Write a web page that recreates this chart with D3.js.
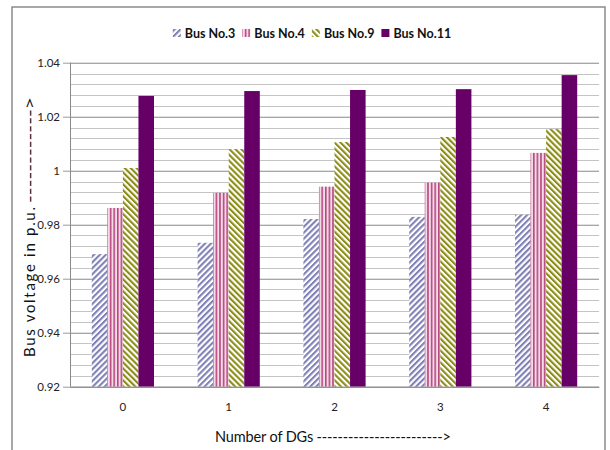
<!DOCTYPE html>
<html><head><meta charset="utf-8">
<script src="https://cdn.jsdelivr.net/npm/d3@7/dist/d3.min.js"></script>
<style>body{margin:0;background:#fff;} svg{display:block;font-family:Lato, "Noto Sans", sans-serif;}</style>
</head><body>
<svg id="c" width="610" height="450"></svg>
<script>
const categories = ["0","1","2","3","4"];
const seriesNames = ["Bus No.3","Bus No.4","Bus No.9","Bus No.11"];
const bus3  = [0.9691, 0.9733, 0.9821, 0.9829, 0.9837];
const bus4  = [0.9862, 0.9918, 0.9941, 0.9956, 1.0066];
const bus9  = [1.0010, 1.0080, 1.0106, 1.0125, 1.0154];
const bus11 = [1.0277, 1.0295, 1.0299, 1.0302, 1.0354];
const yTicks = [0.92, 0.94, 0.96, 0.98, 1.00, 1.02, 1.04];
const yTickLabels = ["0.92","0.94","0.96","0.98","1","1.02","1.04"];
const minorStep = 0.004;

(function(){
const seriesValues = [bus3, bus4, bus9, bus11];
const svg = d3.select("#c");
const defs = svg.append("defs");

function diag(id, color, dir){
  const p = defs.append("pattern").attr("id", id).attr("patternUnits","userSpaceOnUse")
    .attr("width",4.2).attr("height",4.2)
    .attr("patternTransform","rotate(" + (dir > 0 ? 45 : -45) + ")");
  p.append("rect").attr("width",4.2).attr("height",4.2).attr("fill","#fff");
  p.append("rect").attr("width",2.1).attr("height",4.2).attr("fill",color);
}
diag("p3", "#7f80b6", 1);
diag("p9", "#8c8c14", -1);
{
  const p = defs.append("pattern").attr("id","p4").attr("patternUnits","userSpaceOnUse")
    .attr("width",3.6).attr("height",4);
  p.append("rect").attr("width",3.6).attr("height",4).attr("fill","#f4dbe8");
  p.append("rect").attr("width",1.6).attr("height",4).attr("fill","#b8477f");
}
const fills = ["url(#p3)","url(#p4)","url(#p9)","#660066"];

svg.append("path").attr("d","M12,460 V7 H605 V460").attr("fill","none")
  .attr("stroke","#8c8c8c").attr("stroke-width",1.5);

const pl = 70, pr = 599, pt = 62.7, pb = 386.7;
const y = d3.scaleLinear().domain([0.92, 1.04]).range([pb, pt]);
const x0 = d3.scaleBand().domain(categories).range([pl, pr]).padding(0);
const groupW = x0.bandwidth() * 0.588;
const x1 = d3.scaleBand().domain(seriesNames).range([0, groupW]).padding(0);

const minor = d3.range(0.92, 1.0401, minorStep);
svg.append("g").selectAll("line").data(minor).join("line")
  .attr("x1", pl).attr("x2", pr)
  .attr("y1", d => Math.round(y(d)) + 0.5).attr("y2", d => Math.round(y(d)) + 0.5)
  .attr("stroke", "#c4c4c4").attr("stroke-width", 1);

const yAxis = d3.axisLeft(y).tickValues(yTicks).tickFormat((d,i) => yTickLabels[i])
  .tickSize(-(pr-pl)).tickPadding(10);
const gy = svg.append("g").attr("transform", `translate(${pl},0)`).call(yAxis);
gy.select(".domain").remove();
gy.selectAll(".tick line").attr("stroke","#9a9a9a").attr("x1",-7).attr("x2", pr-pl);
gy.selectAll(".tick text").attr("font-size",11.5).attr("fill","#222").attr("x",-10)
  .attr("font-family","Lato, sans-serif");

const gGroups = svg.append("g").selectAll("g").data(categories).join("g")
  .attr("transform", d => `translate(${x0(d) + (x0.bandwidth()-groupW)/2},0)`);
gGroups.selectAll("rect").data((c, ci) => seriesNames.map((s, si) => ({s, si, v: seriesValues[si][ci]})))
  .join("rect")
  .attr("x", d => x1(d.s)).attr("width", x1.bandwidth())
  .attr("y", d => y(d.v)).attr("height", d => y(0.92) - y(d.v))
  .attr("fill", d => fills[d.si]);

svg.append("line").attr("x1",pl+0.5).attr("x2",pl+0.5).attr("y1",pt).attr("y2",pb)
  .attr("stroke","#8a8a8a");
const xAxis = d3.axisBottom(x0).tickSize(0).tickPadding(16);
const gx = svg.append("g").attr("transform", `translate(0,${pb})`).call(xAxis);
gx.select(".domain").attr("stroke","#8a8a8a");
gx.selectAll(".tick text").attr("font-size",11.5).attr("fill","#222").attr("font-family","Lato, sans-serif");

svg.append("text").attr("x", 215).attr("y", 442)
  .attr("font-size",14.5).attr("fill","#111")
  .attr("textLength", 236).attr("lengthAdjust","spacing")
  .text("Number of DGs ------------------------>");
svg.append("text").attr("transform","translate(35,357) rotate(-90)")
  .attr("font-size",15).attr("fill","#111")
  .attr("textLength", 150).attr("lengthAdjust","spacing")
  .text("Bus voltage in p.u.");
svg.append("text").attr("transform","translate(35,203) rotate(-90)")
  .attr("font-size",15).attr("fill","#111")
  .attr("textLength", 106).attr("lengthAdjust","spacingAndGlyphs")
  .text("------------>");

const legend = svg.append("g").attr("font-size",12.5).attr("font-weight","bold").attr("fill","#111");
let lx = 0;
seriesNames.forEach((s, i) => {
  legend.append("rect").attr("x", lx).attr("y", 29).attr("width", 8).attr("height", 8).attr("fill", fills[i]);
  const t = legend.append("text").attr("x", lx + 12).attr("y", 37.5).text(s);
  lx += 12 + t.node().getComputedTextLength() + (i < 3 ? 7 : 0);
});
legend.attr("transform", `translate(${312 - lx/2},0)`);
})();
</script>
</body></html>
